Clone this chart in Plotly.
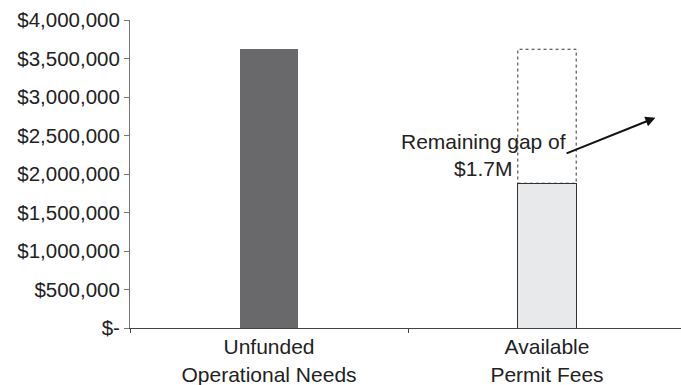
import plotly.graph_objects as go

# Funding comparison data
categories = ["Unfunded<br>Operational Needs", "Available<br>Permit Fees"]
unfunded_need = 3_620_000
permit_fees = 1_880_000
gap = unfunded_need - permit_fees

y_tickvals = [0, 500_000, 1_000_000, 1_500_000, 2_000_000, 2_500_000,
              3_000_000, 3_500_000, 4_000_000]
y_ticktext = ["$-"] + [f"${v:,.0f}" for v in y_tickvals[1:]]

bar_width = 0.21
font_family = "Liberation Sans, Arial, sans-serif"

fig = go.Figure()
fig.add_bar(x=[categories[0]], y=[unfunded_need], width=bar_width,
            marker=dict(color="#69696b", line=dict(width=0)))
fig.add_bar(x=[categories[1]], y=[permit_fees], width=bar_width,
            marker=dict(color="#e8e9eb", line=dict(color="#333333", width=1)))
fig.add_bar(x=[categories[1]], y=[gap], width=bar_width,
            marker=dict(color="white", line=dict(width=0)))

# dotted outline around the unfunded remainder
fig.add_shape(type="rect", xref="x", yref="y",
              x0=1 - bar_width / 2, x1=1 + bar_width / 2,
              y0=permit_fees, y1=permit_fees + gap,
              line=dict(color="#333333", width=1, dash="dot"),
              fillcolor="rgba(0,0,0,0)")

gap_label = f"Remaining gap of<br>${gap / 1e6:.1f}M"
fig.add_annotation(x=0.773, y=2_250_000, xref="x", yref="y",
                   text=gap_label, showarrow=False, align="center",
                   font=dict(size=21, color="#222222", family=font_family))
fig.add_annotation(x=1.39, y=2_730_000, xref="x", yref="y",
                   ax=1.065, ay=2_260_000, axref="x", ayref="y",
                   text="", showarrow=True, arrowhead=2, arrowsize=1,
                   arrowwidth=2, arrowcolor="#111111")

fig.update_layout(
    width=681, height=385,
    margin=dict(l=130, r=0, t=20, b=57),
    barmode="stack",
    showlegend=False,
    plot_bgcolor="white",
    paper_bgcolor="white",
    font=dict(family=font_family, size=20, color="#222222"),
)
fig.update_xaxes(
    type="category", range=[-0.5, 1.482],
    showline=True, linecolor="#444444", linewidth=1,
    ticks="outside", tickson="boundaries", ticklen=4, tickcolor="#444444",
    showgrid=False, zeroline=False,
    tickfont=dict(size=21),
)
fig.update_yaxes(
    range=[0, 4_000_000], tickvals=y_tickvals, ticktext=y_ticktext,
    showline=True, linecolor="#777777", linewidth=1,
    ticks="outside", ticklen=5, tickcolor="#777777",
    showgrid=False, zeroline=False,
    tickfont=dict(size=20.5),
)

fig.write_html("out.html")
